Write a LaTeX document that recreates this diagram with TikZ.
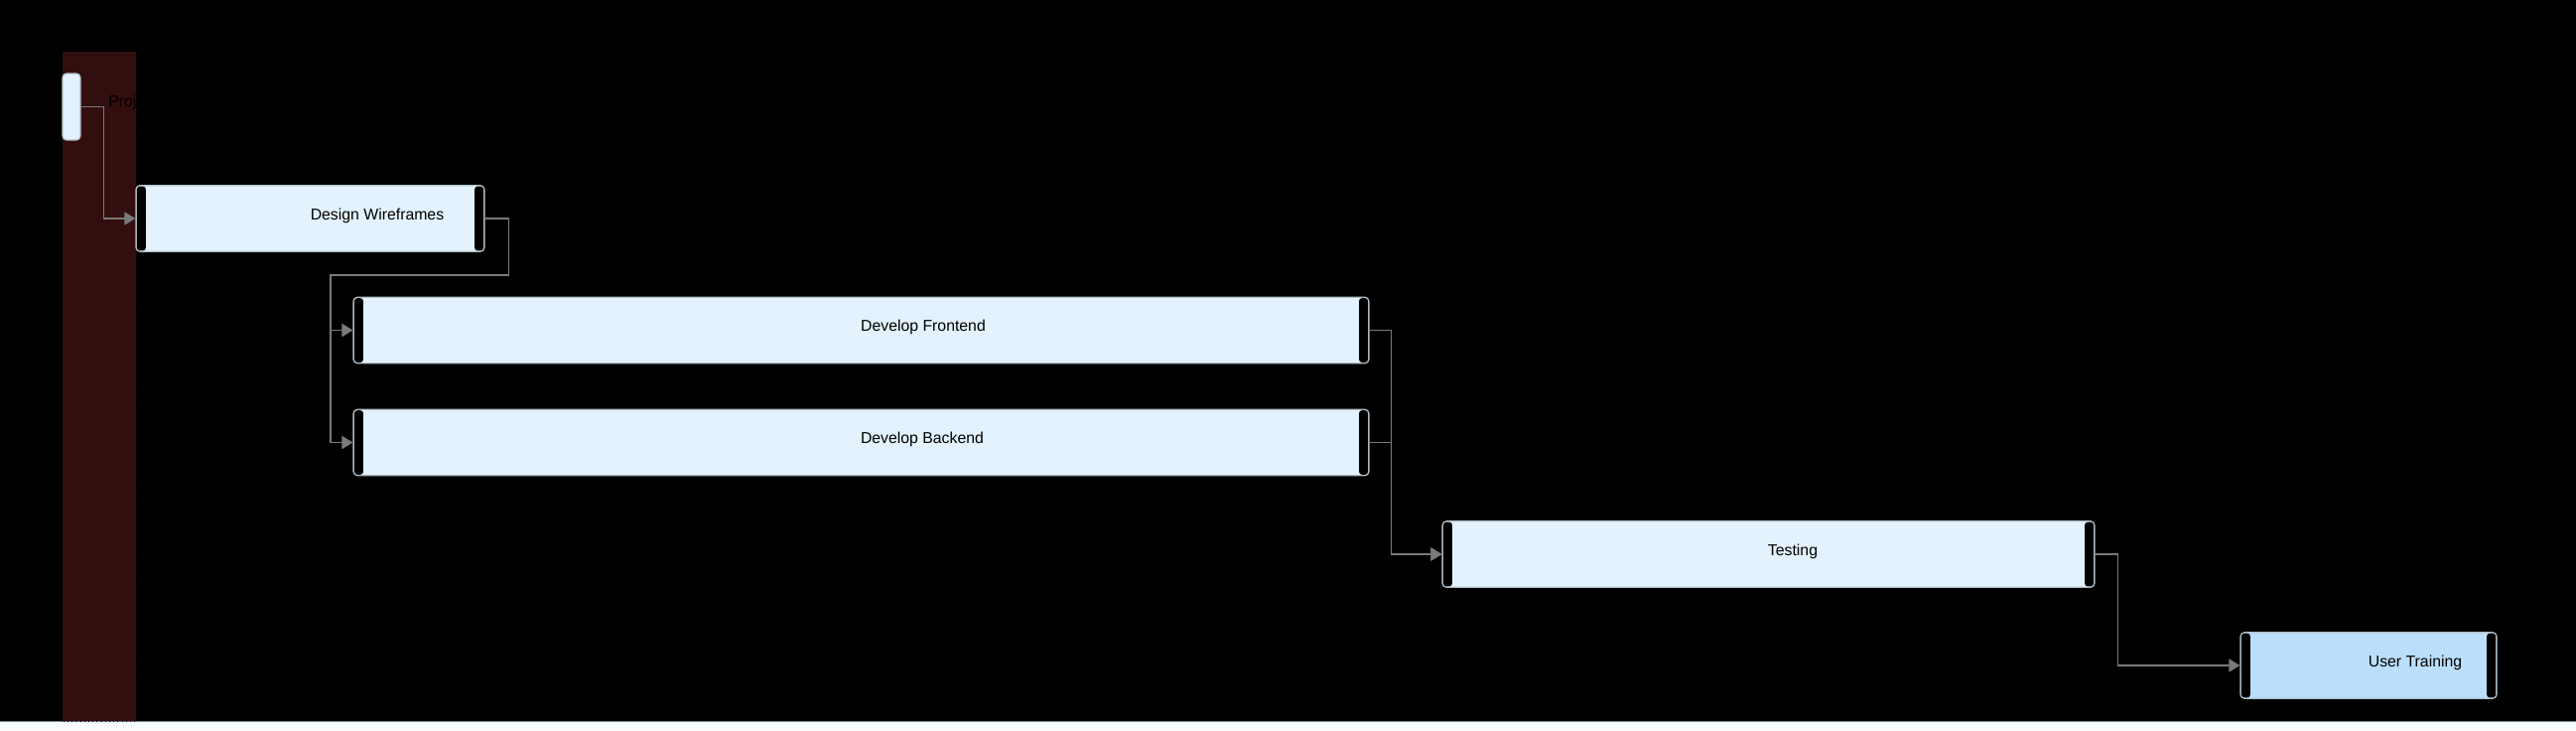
\documentclass[tikz,border=0pt]{standalone}
\usepackage{fontspec}
\setmainfont{Liberation Sans}
\usetikzlibrary{arrows.meta}
\definecolor{taskfill}{HTML}{E3F2FD}
\definecolor{trainfill}{HTML}{BBDEFB}
\definecolor{taskline}{HTML}{B0BEC5}
\definecolor{linkgray}{HTML}{7A7A7A}
\definecolor{colfill}{HTML}{330E0E}
\definecolor{colline}{HTML}{240808}
\definecolor{stripfill}{HTML}{F7FCFF}
\definecolor{stripline}{HTML}{78909C}

\tikzset{
	task/.style={draw=taskline, fill=taskfill, line width=0.7pt, rounded corners=0.08cm, minimum height=1.33cm, inner sep=0pt},
	link/.style={draw=linkgray, line width=1pt, -{Triangle[length=0.22cm, width=0.26cm]}},
	handle/.style={fill=black, rounded corners=0.06cm},
}

\begin{document}
\begin{tikzpicture}[x=0.02cm, y=-0.02cm, font=\fontsize{9pt}{11pt}\selectfont]
	\useasboundingbox (0,0) rectangle (2595,735);
	\fill[black] (0,0) rectangle (2595,735);
	\fill[stripfill] (0,726) rectangle (2595,735);
	\draw[stripline] (0,726) -- (2595,726);
	% today column
	\draw[colline, dotted, fill=colfill] (63,52) rectangle (137,726);

	\node[task, minimum width=0.36cm, minimum height=1.34cm] (start) at (72,107.5) {};
	\node[anchor=west, inner sep=0pt, text=black] (start-text) at (109,103) {Proj};

	\node[task, minimum width=7.02cm, label={[xshift=1.35cm, yshift=0.06cm]center:Design Wireframes}] (wireframes) at (312.5,220) {};
	\node[task, minimum width=20.46cm, label={[xshift=1.25cm, yshift=0.06cm]center:Develop Frontend}] (frontend) at (867.5,332.5) {};
	\node[task, minimum width=20.46cm, label={[xshift=1.23cm, yshift=0.06cm]center:Develop Backend}] (backend) at (867.5,445.5) {};
	\node[task, minimum width=13.14cm, label={[xshift=0.49cm, yshift=0.06cm]center:Testing}] (testing) at (1781.5,558) {};
	\node[task, fill=trainfill, minimum width=5.16cm, label={[xshift=0.94cm, yshift=0.06cm]center:User Training}] (training) at (2386,670) {};

	% drag handles
	\foreach \t in {wireframes,frontend,backend,testing,training} {
		\fill[handle] ([xshift=0.03cm, yshift=-0.03cm]\t.north west) rectangle ([xshift=0.21cm, yshift=0.03cm]\t.south west);
		\fill[handle] ([xshift=-0.21cm, yshift=-0.03cm]\t.north east) rectangle ([xshift=-0.03cm, yshift=0.03cm]\t.south east);
	}

	\coordinate (split) at (333,277);
	\draw[link] (start.east) -- ++(23,0) |- (wireframes.west);
	\draw[link] (wireframes.east) -- ++(24,0) |- (split) |- (frontend.west);
	\draw[link] (wireframes.east) -- ++(24,0) |- (split) |- (backend.west);
	\draw[link] (frontend.east) -- ++(22,0) |- (testing.west);
	\draw[link] (backend.east) -- ++(22,0) |- (testing.west);
	\draw[link] (testing.east) -- ++(23,0) |- (training.west);
\end{tikzpicture}
\end{document}
